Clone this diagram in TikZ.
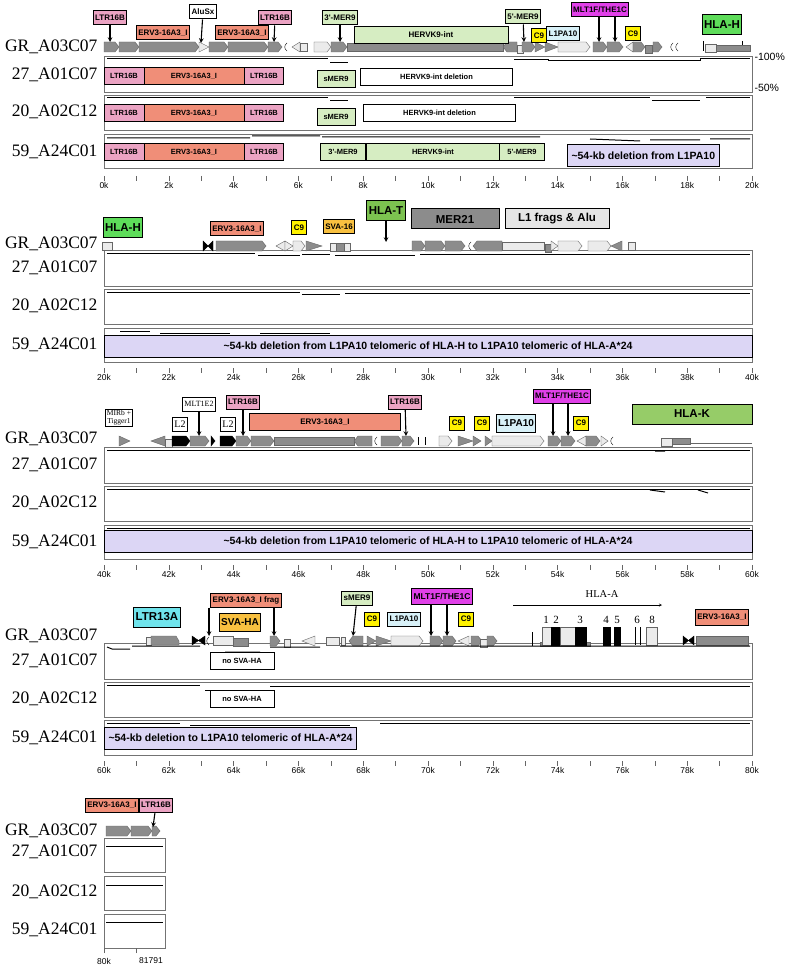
\documentclass[tikz,border=0pt]{standalone}
\usepackage{fontspec}
\setmainfont{Liberation Serif}
\newfontfamily\sansb{Liberation Sans}
\begin{document}
\begin{tikzpicture}[x=1pt,y=-1pt,
  lab/.style={draw,line width=1pt,font=\sansb\bfseries\fontsize{8}{9}\selectfont,inner sep=2pt,minimum height=14pt},
  big/.style={lab,font=\sansb\bfseries\fontsize{11.5}{12}\selectfont,minimum height=20pt},
  feat/.style={draw=black!60,fill=black!45,line width=0.4pt},
  wfeat/.style={draw=black!60,fill=black!8,line width=0.4pt},
  bfeat/.style={draw=black,fill=black,line width=0.4pt},
  trk/.style={draw=black!55,line width=0.6pt},
  sim/.style={line width=1pt},
  pt/.style={->,>=stealth,line width=1.1pt},
  rowlab/.style={font=\fontsize{17.5}{19}\selectfont,anchor=east},
  tick/.style={font=\sansb\fontsize{8.5}{10}\selectfont},
  inbox/.style={draw,line width=1pt,font=\sansb\bfseries\fontsize{7.5}{8}\selectfont,minimum height=17pt,inner sep=1pt},
  del/.style={draw,line width=1pt,fill=lav,font=\sansb\bfseries\fontsize{10.5}{12}\selectfont,anchor=west,minimum height=22pt,inner sep=4pt}]
\definecolor{pinkc}{HTML}{EBA3C3}
\definecolor{salm}{HTML}{F08E78}
\definecolor{lgreen}{HTML}{D6EDC2}
\definecolor{hgreen}{HTML}{5EDC5A}
\definecolor{yel}{HTML}{FFF200}
\definecolor{mag}{HTML}{E040E8}
\definecolor{lblue}{HTML}{D8F1F8}
\definecolor{lav}{HTML}{DCD6F5}
\definecolor{orng}{HTML}{F8C040}
\definecolor{cyan1}{HTML}{70E4EC}
\definecolor{tgreen}{HTML}{7CC250}
\definecolor{kgreen}{HTML}{96CC68}
\newcommand\fr[4][feat]{\draw[#1] (#2,#4-5) -- (#3-4,#4-5) -- (#3,#4) -- (#3-4,#4+5) -- (#2,#4+5) -- cycle;}
\newcommand\fl[4][feat]{\draw[#1] (#2+4,#4-5) -- (#3,#4-5) -- (#3,#4+5) -- (#2+4,#4+5) -- (#2,#4) -- cycle;}
\newcommand\tr[4][feat]{\draw[#1] (#2,#4-5) -- (#3,#4) -- (#2,#4+5) -- cycle;}
\newcommand\tl[4][feat]{\draw[#1] (#3,#4-5) -- (#2,#4) -- (#3,#4+5) -- cycle;}
\newcommand\rc[4][feat]{\draw[#1] (#2,#4-4) rectangle (#3,#4+4);}
\newcommand\paren[2]{\draw (#1+2,#2-4) .. controls (#1-1,#2-2) and (#1-1,#2+2) .. (#1+2,#2+4);}
\newcommand\axis[3]{%
  \foreach \i in {0,...,#3}{\draw[black!60] (104+\i*32.4,#1-9) -- (104+\i*32.4,#1-4);}
  \foreach \i [evaluate=\i as \k using int(#2+2*\i)] in {0,...,10}{\node[tick] at (104+\i*64.8,#1) {\k k};}}
\useasboundingbox (0,0) rectangle (788,968);
\fill[white] (0,0) rectangle (788,968);
% ================= PANEL 1 =================
\node[rowlab] at (101,47) {GR\_A03C07};
\node[rowlab] at (101,75) {27\_A01C07};
\node[rowlab] at (101,112) {20\_A02C12};
\node[rowlab] at (101,152) {59\_A24C01};
\foreach \a/\b in {56/92,95/130,134/168}{\draw[trk] (104,\a) rectangle (752,\b);}
\node[font=\sansb\fontsize{10.5}{12}\selectfont,anchor=west] at (751,57) {-100\%};
\node[font=\sansb\fontsize{10.5}{12}\selectfont,anchor=west] at (751,88) {-50\%};
\fr{104}{119}{47}\fr{119}{139}{47}\fr{139}{199}{47}\tr[wfeat]{199}{209}{47}
\fr{209}{228}{47}\fr{228}{268}{47}\fr{268}{282}{47}
\paren{285}{47}\tl[wfeat]{292}{300}{47}\rc[wfeat]{300}{307}{47}
\fr[wfeat]{314}{331}{47}\fr{331}{347}{47}\rc{347}{503}{47}\fl{503}{517}{47}
\rc[wfeat]{517}{523}{49}\fr{522}{535}{47}\tr{535}{545}{47}\tr{545}{558}{47}
\fr[wfeat]{558}{590}{47}\fr{593}{607}{47}\fr{607}{623}{47}\tl[wfeat]{626}{633}{47}
\fr{633}{645}{47}\rc{645}{652}{49}\fr{653}{662}{47}
\paren{671}{47}\paren{676}{47}
\draw (703,41)--(703,51);\rc[wfeat]{705}{716}{48}\draw[feat] (716,45) rectangle (750,51);\draw (742,41)--(742,45);
\node[lab,fill=pinkc] (a1) at (110,18) {LTR16B};
\node[lab,fill=salm] (a2) at (163,33) {ERV3-16A3\_I};
\node[lab,fill=white] (a3) at (203,12) {AluSx};
\node[lab,fill=salm] (a4) at (242,33) {ERV3-16A3\_I};
\node[lab,fill=pinkc] (a5) at (275,18) {LTR16B};
\node[lab,fill=lgreen] (a6) at (340,18) {3'-MER9};
\node[lab,fill=lgreen,minimum width=154pt,minimum height=17pt] (a7) at (431,35) {HERVK9-int};
\node[lab,fill=lgreen] (a8) at (523,17) {5'-MER9};
\node[lab,fill=yel] (a9) at (539,36) {C9};
\node[lab,fill=lblue] (a10) at (563,34) {L1PA10};
\node[lab,fill=mag] (a11) at (600,10) {MLT1F/THE1C};
\node[lab,fill=yel] (a12) at (633,34) {C9};
\node[big,fill=hgreen] (a13) at (722,25) {HLA-H};
\coordinate (p1) at (110,42);\coordinate (p3) at (201,43);\coordinate (p5) at (274,42);
\coordinate (p6) at (340,42);\coordinate (p8) at (524,42);\coordinate (p11a) at (599,42);\coordinate (p11b) at (615,42);
\draw[pt] (a1) -- (p1);\draw[pt] (a3) -- (p3);\draw[pt] (a5) -- (p5);\draw[pt] (a6) -- (p6);\draw[pt] (a8) -- (p8);
\draw[pt] (a11.south-|p11a) -- (p11a);\draw[pt] (a11.south-|p11b) -- (p11b);
\foreach \y/\c in {76/a,113/b,152/c}{
 \node[inbox,fill=pinkc,minimum width=40pt] at (124,\y) {LTR16B};
 \node[inbox,fill=salm,minimum width=100pt] at (194,\y) {ERV3-16A3\_I};
 \node[inbox,fill=pinkc,minimum width=39pt] at (264,\y) {LTR16B};}
\node[inbox,fill=lgreen,minimum width=38pt] at (336,79) {sMER9};
\node[inbox,fill=white,minimum width=152pt,anchor=west] at (360,77) {HERVK9-int deletion};
\node[inbox,fill=lgreen,minimum width=38pt] at (336,117) {sMER9};
\node[inbox,fill=white,minimum width=152pt,anchor=west] at (363,113) {HERVK9-int deletion};
\node[inbox,fill=lgreen,minimum width=45pt] at (343,152) {3'-MER9};
\node[inbox,fill=lgreen,minimum width=134pt] at (433,152) {HERVK9-int};
\node[inbox,fill=lgreen,minimum width=45pt] at (522,152) {5'-MER9};
\node[del] at (567,156) {\textasciitilde54-kb deletion from L1PA10};
\draw[sim] (107,59)--(328,59) (330,63)--(348,63) (514,60)--(548,60)--(548,61)--(700,61)--(700,59)--(750,59);
\draw[sim] (107,98)--(328,98) (330,101)--(348,101) (514,98)--(650,98) (652,101)--(700,101) (706,98)--(750,98);
\draw[sim] (107,138)--(250,138) (252,136)--(320,136) (322,137)--(540,137) (590,139)--(640,141) (650,140)--(700,140) (710,139)--(750,139);
\axis{185}{0}{20}
% ================= PANEL 2 =================
\node[rowlab] at (101,244) {GR\_A03C07};
\node[rowlab] at (101,268) {27\_A01C07};
\node[rowlab] at (101,306) {20\_A02C12};
\node[rowlab] at (101,345) {59\_A24C01};
\foreach \a/\b in {250/286,289/324,328/362}{\draw[trk] (104,\a) rectangle (752,\b);}
\rc[wfeat]{102}{112}{246}
\draw[bfeat] (203,241)--(213,251)--(213,241)--(203,251)--cycle;\fr{216}{266}{246}
\tl[wfeat]{276}{285}{246}\tr[wfeat]{285}{293}{246}\fr[wfeat]{293}{305}{246}\tr{306}{322}{246}
\rc[wfeat]{330}{350}{247}\rc{336}{344}{247}
\fr{412}{425}{246}\fr{425}{445}{246}\fr{445}{465}{246}\paren{469}{246}\fl{473}{502}{246}\rc[wfeat]{502}{544}{246}
\rc{545}{551}{248}\tr[wfeat]{551}{558}{246}\fr[wfeat]{558}{582}{246}\fr[wfeat]{588}{611}{246}\tl{611}{622}{246}
\rc[wfeat]{628}{635}{246}
\node[big,fill=hgreen] (b1) at (123,228) {HLA-H};
\node[lab,fill=salm] (b2) at (237,229) {ERV3-16A3\_I};
\node[lab,fill=yel] (b3) at (299,228) {C9};
\node[lab,fill=orng] (b4) at (339,227) {SVA-16};
\node[big,fill=tgreen] (b5) at (386,211) {HLA-T};
\node[big,fill=black!45,minimum width=88pt] (b6) at (455,219) {MER21};
\node[big,fill=black!10,minimum width=104pt] (b7) at (557,219) {L1 frags \& Alu};
\coordinate (q5) at (386,242);\draw[pt] (b5) -- (q5);
\node[del,minimum width=648pt,anchor=center] at (428,346) {\textasciitilde54-kb deletion from L1PA10 telomeric of HLA-H to L1PA10 telomeric of HLA-A*24};
\draw[sim] (107,253)--(255,253) (258,255)--(300,255) (302,254)--(330,254) (335,255)--(415,255) (420,254)--(750,254);
\draw[sim] (107,292)--(300,292) (302,294)--(340,294) (345,293)--(750,293);
\draw[sim] (120,331)--(150,331) (160,333)--(230,333) (260,333)--(330,333);
\axis{377}{20}{20}
% ================= PANEL 3 =================
\node[rowlab] at (101,439) {GR\_A03C07};
\node[rowlab] at (101,465) {27\_A01C07};
\node[rowlab] at (101,503) {20\_A02C12};
\node[rowlab] at (101,542) {59\_A24C01};
\foreach \a/\b in {447/483,486/521,525/559}{\draw[trk] (104,\a) rectangle (752,\b);}
\tr{119}{130}{441}\tl{151}{165}{441}\rc[wfeat]{165}{172}{443}\fr[bfeat]{172}{190}{441}\fr{190}{209}{441}\fr[bfeat]{211}{215}{441}
\fr[bfeat]{220}{236}{441}\fr{236}{251}{441}\fr{251}{274}{441}\rc{274}{354}{441}\fl{354}{372}{441}\paren{375}{441}
\fr{381}{402}{441}\fr{402}{414}{441}\draw (418,437)--(418,445) (425,437)--(425,445);
\fr[wfeat]{439}{452}{441}\tr{458}{473}{441}\tr{473}{481}{441}\tr{485}{492}{441}\fr[wfeat]{492}{544}{441}
\fr{548}{561}{441}\fr{561}{575}{441}\tl[wfeat]{577}{586}{441}\fr{586}{600}{441}\tr[wfeat]{601}{608}{441}\paren{611}{441}
\rc[wfeat]{661}{672}{442}\draw[feat] (672,438) rectangle (690,444);\draw[black!60] (690,443)--(752,443);
\node[lab,fill=white,font=\fontsize{7.5}{8}\selectfont,align=center,inner sep=1.5pt] (c1) at (119,418) {MIRb +\\Tigger1};
\node[lab,fill=white,font=\fontsize{10}{10}\selectfont] (c2) at (180,424) {L2};
\node[lab,fill=white,font=\fontsize{8}{8}\selectfont] (c3) at (199,404) {MLT1E2};
\node[lab,fill=white,font=\fontsize{10}{10}\selectfont] (c4) at (228,424) {L2};
\node[lab,fill=pinkc] (c5) at (243,402) {LTR16B};
\node[lab,fill=salm,minimum width=151pt,minimum height=17pt] (c6) at (325,422) {ERV3-16A3\_I};
\node[lab,fill=pinkc] (c7) at (405,402) {LTR16B};
\node[lab,fill=yel] (c8) at (457,423) {C9};
\node[lab,fill=yel] (c9) at (482,423) {C9};
\node[lab,fill=lblue,font=\sansb\bfseries\fontsize{10}{10}\selectfont,minimum height=18pt] (c10) at (516,423) {L1PA10};
\node[lab,fill=mag] (c11) at (562,396) {MLT1F/THE1C};
\node[lab,fill=yel] (c12) at (581,423) {C9};
\node[big,fill=kgreen,minimum width=120pt] (c13) at (692,414) {HLA-K};
\coordinate (r3) at (199,436);\coordinate (r5) at (243,436);\coordinate (r7) at (406,436);\coordinate (r11a) at (553,436);\coordinate (r11b) at (568,436);
\draw[pt] (c3) -- (r3);\draw[pt] (c5) -- (r5);\draw[pt] (c7) -- (r7);\draw[pt] (c11.south-|r11a) -- (r11a);\draw[pt] (c11.south-|r11b) -- (r11b);
\draw[sim] (107,450)--(750,450) (107,489)--(750,489);
\draw[sim] (655,451)--(665,451) (650,490)--(665,492) (698,490)--(708,493);
\draw[sim] (107,528)--(750,528);
\node[del,minimum width=648pt,anchor=center] at (428,541) {\textasciitilde54-kb deletion from L1PA10 telomeric of HLA-H to L1PA10 telomeric of HLA-A*24};
\axis{574}{40}{20}
% ================= PANEL 4 =================
\node[rowlab] at (101,636) {GR\_A03C07};
\node[rowlab] at (101,661) {27\_A01C07};
\node[rowlab] at (101,699) {20\_A02C12};
\node[rowlab] at (101,738) {59\_A24C01};
\foreach \a/\b in {643/679,682/717,720/755}{\draw[trk] (104,\a) rectangle (752,\b);}
\rc[wfeat]{146}{151}{641}\draw[feat] (151,636)--(176,636)--(179,641)--(179,645)--(151,645)--cycle;
\draw[bfeat] (192,636)--(205,645)--(205,636)--(192,645)--cycle;\paren{207}{641}
\draw[wfeat] (213,636) rectangle (233,645);\rc{233}{248}{642}\fr{270}{280}{641}\rc[wfeat]{284}{290}{643}
\tl[wfeat]{302}{315}{641}\rc[wfeat]{326}{339}{641}\rc[wfeat]{341}{345}{641}\fl{349}{363}{641}\tr{367}{376}{641}\tr{376}{391}{641}
\fr[wfeat]{391}{423}{641}\fr{430}{443}{641}\fr{443}{456}{641}\tl[wfeat]{458}{469}{641}\fr{471}{482}{641}\rc[wfeat]{480}{487}{643}\fr{487}{497}{641}
\draw[feat] (540,642) rectangle (590,646);
\foreach \a/\b/\s in {542/551/wfeat,551/560/bfeat,560/575/wfeat,575/586/bfeat,603/610/bfeat,614/620/bfeat,646/657/wfeat}{\draw[\s] (\a,627) rectangle (\b,645);}
\draw[line width=0.8pt] (635,627)--(635,645) (640,627)--(640,645);\draw (532,632)--(532,646);
\foreach \n/\x in {1/546,2/556,3/580,4/606,5/617,6/637,8/652}{\node[font=\fontsize{11}{12}\selectfont] at (\x,620) {\n};}
\node[font=\fontsize{10.5}{12}\selectfont] (hla) at (602,594) {HLA-A};
\coordinate (ha1) at (513,605);\coordinate (ha2) at (662,605);\draw[->,>=stealth] (ha1) -- (ha2);
\draw[bfeat] (683,636)--(694,645)--(694,636)--(683,645)--cycle;\draw[feat] (696,636) rectangle (748,645);
\node[big,fill=cyan1] (d1) at (157,617) {LTR13A};
\node[lab,fill=salm] (d2) at (246,600) {ERV3-16A3\_I frag};
\node[lab,fill=orng,font=\sansb\bfseries\fontsize{10}{10}\selectfont,minimum height=18pt] (d3) at (240,622) {SVA-HA};
\node[lab,fill=lgreen] (d4) at (357,598) {sMER9};
\node[lab,fill=yel] (d5) at (372,619) {C9};
\node[lab,fill=lblue] (d6) at (404,619) {L1PA10};
\node[lab,fill=mag,font=\sansb\bfseries\fontsize{8.5}{9}\selectfont,minimum height=16pt] (d7) at (442,596) {MLT1F/THE1C};
\node[lab,fill=yel] (d8) at (466,619) {C9};
\node[lab,fill=salm,minimum height=16pt] (d9) at (722,617) {ERV3-16A3\_I};
\coordinate (s2a) at (209,636);\coordinate (s2b) at (274,636);\coordinate (s4) at (353,636);\coordinate (s7a) at (431,636);\coordinate (s7b) at (447,636);
\draw[pt] (d2.south-|s2a) -- (s2a);\draw[pt] (d2.south-|s2b) -- (s2b);\draw[pt] (d4) -- (s4);\draw[pt] (d7.south-|s7a) -- (s7a);\draw[pt] (d7.south-|s7b) -- (s7b);
\node[inbox,fill=white,minimum width=64pt] at (242,661) {no SVA-HA};
\node[inbox,fill=white,minimum width=64pt] at (242,699) {no SVA-HA};
\draw[sim] (107,647)--(112,649)--(130,649) (132,646)--(200,646) (225,652)--(260,652) (270,647)--(320,647) (340,646)--(750,646);
\draw[sim] (107,685)--(200,685) (205,690)--(220,690) (270,686)--(750,686);
\draw[sim] (107,723)--(180,723) (190,725)--(350,725) (380,723)--(750,723);
\node[del] at (104,738) {\textasciitilde54-kb deletion to L1PA10 telomeric of HLA-A*24};
\axis{770}{60}{20}
% ================= PANEL 5 =================
\node[rowlab] at (101,831) {GR\_A03C07};
\node[rowlab] at (101,852) {27\_A01C07};
\node[rowlab] at (101,892) {20\_A02C12};
\node[rowlab] at (101,930) {59\_A24C01};
\foreach \a/\b in {838/872,876/910,914/948}{\draw[trk] (104,\a) rectangle (165,\b);}
\fr{106}{131}{831}\fr{131}{152}{831}\fr{152}{160}{831}
\node[lab,fill=salm] (e1) at (112,805) {ERV3-16A3\_I};
\node[lab,fill=pinkc] (e2) at (156,805) {LTR16B};
\coordinate (t2) at (153,827);\draw[pt] (e2) -- (t2);
\draw[sim] (106,846)--(163,846) (106,885)--(163,885) (106,922)--(163,922);
\draw[black!60] (104,953)--(104,948) (136,953)--(136,948);
\node[tick] at (104,961) {80k};\node[tick] at (151,961) {81791};
\end{tikzpicture}
\end{document}
